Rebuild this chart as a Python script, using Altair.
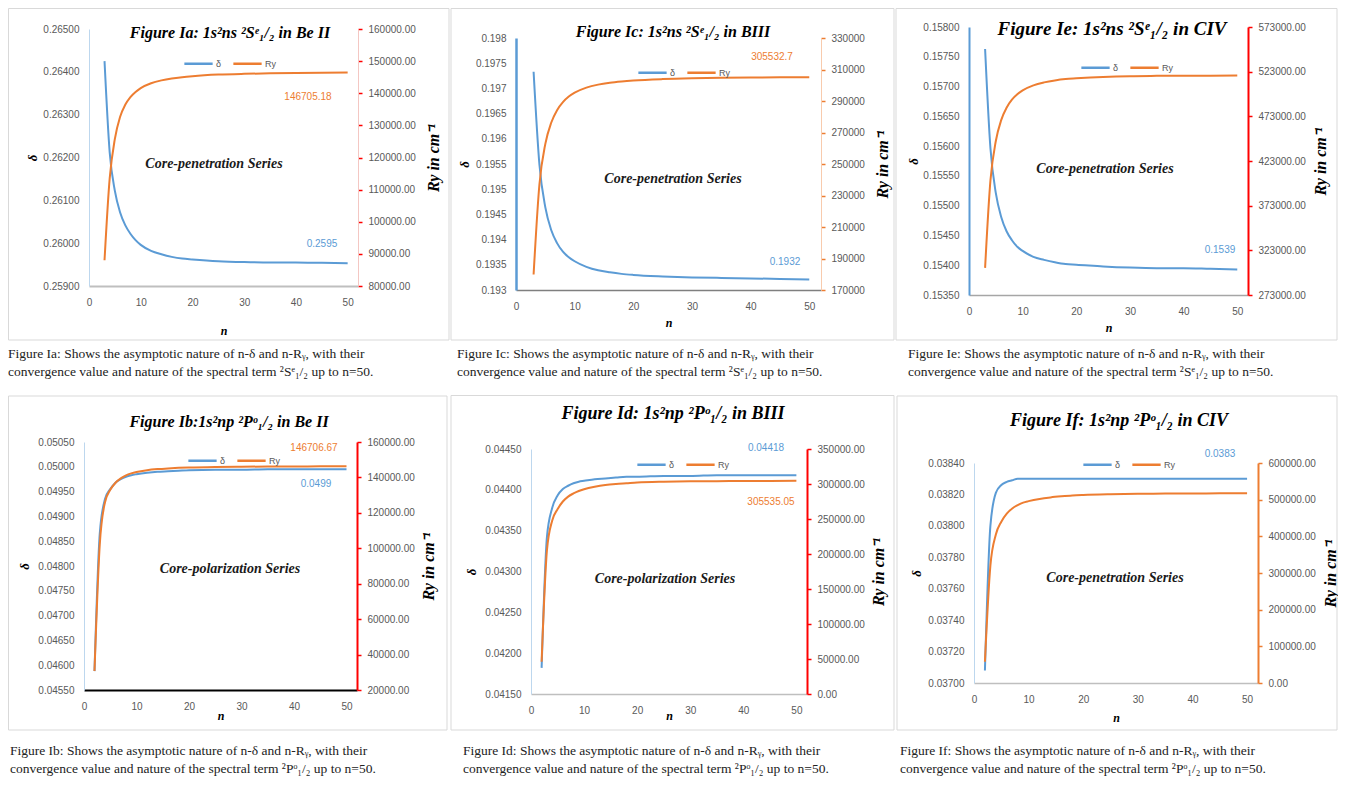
import altair as alt
import pandas as pd

BLUE = "#5B9BD5"
ORANGE = "#ED7D31"
SERIES = ["δ", "Ry"]

# ---------------- data ----------------
N_S = [3, 4, 5, 6, 7, 8, 9, 10, 12, 14, 16, 18, 20, 25, 30, 35, 40, 45, 50]
N_P = [2, 3, 4, 5, 6, 7, 8, 9, 10, 12, 14, 16, 18, 20, 25, 30, 35, 40, 45, 50]

DELTA_IA = [0.26425, 0.26212, 0.26122, 0.26072, 0.26042, 0.26022, 0.26007, 0.25996, 0.25982, 0.25974,
            0.25968, 0.25964, 0.25962, 0.25958, 0.25956, 0.25955, 0.25955, 0.25954, 0.25953]
RY_IA = [88000, 113500, 125800, 132600, 136400, 138800, 140400, 141600, 143100, 144000,
         144600, 145000, 145300, 145800, 146050, 146200, 146300, 146380, 146430]

DELTA_IC = [0.19733, 0.19548, 0.19464, 0.19419, 0.19393, 0.19376, 0.19365, 0.19357, 0.19346, 0.19339,
            0.19335, 0.19332, 0.19330, 0.19327, 0.19325, 0.19324, 0.19323, 0.19322, 0.19321]
RY_IC = [179800, 237300, 262800, 276200, 284200, 289300, 292800, 295300, 298500, 300400,
         301600, 302400, 303000, 303900, 304400, 304700, 304900, 305050, 305150]

DELTA_IE = [0.15763, 0.15596, 0.15521, 0.15481, 0.15457, 0.15442, 0.15431, 0.15424, 0.15414, 0.15409,
            0.15405, 0.15402, 0.15401, 0.15398, 0.15396, 0.15395, 0.15395, 0.15394, 0.15393]
RY_IE = [303400, 401500, 445400, 468800, 482700, 491700, 497700, 502100, 507700, 511000,
         513200, 514700, 515500, 517100, 518000, 518300, 518450, 518550, 518650]

DELTA_IB = [0.04588, 0.04865, 0.04935, 0.04955, 0.04968, 0.04975, 0.04980, 0.04983, 0.04985, 0.04988,
            0.04990, 0.04991, 0.04992, 0.04993, 0.04994, 0.04994, 0.04995, 0.04995, 0.04995, 0.04995]
RY_IB = [30700, 102000, 126000, 133000, 137000, 139500, 141200, 142300, 143100, 144100,
         144700, 145100, 145400, 145600, 145900, 146050, 146150, 146200, 146250, 146300]

DELTA_ID = [0.04182, 0.04342, 0.04378, 0.04393, 0.04401, 0.04405, 0.04408, 0.04410, 0.04411, 0.04413,
            0.04414, 0.04415, 0.04416, 0.04416, 0.04417, 0.04417, 0.04418, 0.04418, 0.04418, 0.04418]
RY_ID = [46000, 205000, 248000, 264000, 275000, 282000, 286500, 290000, 292500, 296000,
         298500, 300000, 301000, 302000, 303200, 303800, 304100, 304300, 304450, 304550]

DELTA_IF = [0.03708, 0.03800, 0.03821, 0.03826, 0.03828, 0.03829, 0.03830, 0.03830, 0.03830, 0.03830,
            0.03830, 0.03830, 0.03830, 0.03830, 0.03830, 0.03830, 0.03830, 0.03830, 0.03830, 0.03830]
RY_IF = [58000, 320000, 405000, 440000, 462000, 476000, 485000, 492000, 496000, 502000,
         506000, 509000, 511500, 513000, 515000, 516000, 516600, 517000, 517200, 517400]

X_TICKS = [0, 10, 20, 30, 40, 50]
YL_IA = [0.259, 0.260, 0.261, 0.262, 0.263, 0.264, 0.265]
YR_IA = [80000, 90000, 100000, 110000, 120000, 130000, 140000, 150000, 160000]
YL_IC = [0.193, 0.1935, 0.194, 0.1945, 0.195, 0.1955, 0.196, 0.1965, 0.197, 0.1975, 0.198]
YR_IC = [170000, 190000, 210000, 230000, 250000, 270000, 290000, 310000, 330000]
YL_IE = [0.1535, 0.154, 0.1545, 0.155, 0.1555, 0.156, 0.1565, 0.157, 0.1575, 0.158]
YR_IE = [273000, 323000, 373000, 423000, 473000, 523000, 573000]
YL_IB = [0.0455, 0.046, 0.0465, 0.047, 0.0475, 0.048, 0.0485, 0.049, 0.0495, 0.05, 0.0505]
YR_IB = [20000, 40000, 60000, 80000, 100000, 120000, 140000, 160000]
YL_ID = [0.0415, 0.042, 0.0425, 0.043, 0.0435, 0.044, 0.0445]
YR_ID = [0, 50000, 100000, 150000, 200000, 250000, 300000, 350000]
YL_IF = [0.037, 0.0372, 0.0374, 0.0376, 0.0378, 0.038, 0.0382, 0.0384]
YR_IF = [0, 100000, 200000, 300000, 400000, 500000, 600000]


def cap(fig, term):
    return ["Figure " + fig + ": Shows the asymptotic nature of n-δ and n-Rᵧ, with their",
            "convergence value and nature of the spectral term " + term + " up to n=50."]


S_TERM = "²Sᵉ₁/₂"
P_TERM = "²Pᵒ₁/₂"

# layout (absolute page pixels): plot = (left, right-axis x, top, bottom)
PANELS = [
    dict(n=N_S, delta=DELTA_IA, ry=RY_IA, yl=YL_IA, yr=YR_IA, lfmt=".5f", rfmt=".2f",
         plot=(89, 358, 29, 286), cell=(8, 450, 8, 395), frame=(8.5, 449, 8.5, 340),
         xt=44, lt=-57, rt=75,
         lcol="#BDD7EE", lw=1, rcol="#F4C7C3", rw=1, tcol="#FF0000", xcol="#BFBFBF", xw=2,
         title=("Figure Ia: 1s²ns ²Sᵉ₁/₂ in Be II", 230, 33, 16),
         series=("Core-penetration Series", 214, 164),
         labels=[("146705.18", 308, 97, ORANGE), ("0.2595", 322, 244, BLUE)],
         legend=(183, 48), caption=(cap("Ia", S_TERM), 8, 347)),
    dict(n=N_S, delta=DELTA_IC, ry=RY_IC, yl=YL_IC, yr=YR_IC, lfmt=".4~f", rfmt="d",
         plot=(516, 821, 38, 290), cell=(450, 895, 8, 395), frame=(451, 894, 8.5, 340),
         xt=32, lt=-52, rt=61,
         lcol=BLUE, lw=2.5, rcol="#F8CBAD", rw=1, tcol=ORANGE, xcol="#7F7F7F", xw=1.5,
         title=("Figure Ic: 1s²ns ²Sᵉ₁/₂ in BIII", 673, 32, 16),
         series=("Core-penetration Series", 673, 179),
         labels=[("305532.7", 772, 57, ORANGE), ("0.1932", 785, 262, BLUE)],
         legend=(637, 57), caption=(cap("Ic", S_TERM), 457, 347)),
    dict(n=N_S, delta=DELTA_IE, ry=RY_IE, yl=YL_IE, yr=YR_IE, lfmt=".5f", rfmt=".2f",
         plot=(969, 1248, 27, 295), cell=(895, 1338, 8, 395), frame=(896, 1337, 8.5, 340),
         xt=32, lt=-56, rt=72,
         lcol=BLUE, lw=2, rcol="#FF0000", rw=2, tcol="#FF0000", xcol="#A6A6A6", xw=1.5,
         title=("Figure Ie: 1s²ns ²Sᵉ₁/₂ in CIV", 1112, 29, 19),
         series=("Core-penetration Series", 1105, 169),
         labels=[("0.1539", 1220, 250, BLUE)],
         legend=(1080, 52), caption=(cap("Ie", S_TERM), 908, 347)),
    dict(n=N_P, delta=DELTA_IB, ry=RY_IB, yl=YL_IB, yr=YR_IB, lfmt=".5f", rfmt=".2f",
         plot=(84, 357, 442, 690), cell=(8, 449, 395, 777), frame=(8.5, 447, 396, 730),
         xt=25, lt=-60, rt=71,
         lcol="#BDD7EE", lw=1, rcol="#FF0000", rw=2, tcol="#FF0000", xcol="#000000", xw=2,
         title=("Figure Ib:1s²np ²Pᵒ₁/₂ in Be II", 229, 422, 16),
         series=("Core-polarization Series", 230, 569),
         labels=[("146706.67", 314, 448, ORANGE), ("0.0499", 316, 484, BLUE)],
         legend=(187, 445), caption=(cap("Ib", P_TERM), 10, 744)),
    dict(n=N_P, delta=DELTA_ID, ry=RY_ID, yl=YL_ID, yr=YR_ID, lfmt=".5f", rfmt=".2f",
         plot=(531, 807, 449, 694), cell=(449, 896, 395, 777), frame=(451, 894, 395.5, 730),
         xt=21, lt=-60, rt=71,
         lcol="#BDD7EE", lw=1, rcol="#FF0000", rw=2, tcol="#FF0000", xcol="#BFBFBF", xw=1.5,
         title=("Figure Id: 1s²np ²Pᵒ₁/₂ in BIII", 673, 414, 18),
         series=("Core-polarization Series", 665, 579),
         labels=[("0.04418", 766, 448, BLUE), ("305535.05", 771, 502, ORANGE)],
         legend=(636, 449), caption=(cap("Id", P_TERM), 463, 744)),
    dict(n=N_P, delta=DELTA_IF, ry=RY_IF, yl=YL_IF, yr=YR_IF, lfmt=".5f", rfmt=".2f",
         plot=(974, 1258, 463, 683), cell=(896, 1338, 395, 777), frame=(897, 1337, 396, 730),
         xt=34, lt=-58, rt=72,
         lcol="#BDD7EE", lw=1, rcol=ORANGE, rw=2, tcol=ORANGE, xcol="#BFBFBF", xw=1.5,
         title=("Figure If: 1s²np ²Pᵒ₁/₂ in CIV", 1119, 421, 18),
         series=("Core-penetration Series", 1115, 578),
         labels=[("0.0383", 1220, 454, BLUE)],
         legend=(1082, 449), caption=(cap("If", P_TERM), 900, 744)),
]

ONE = pd.DataFrame({"k": [0]})
SERIF = "Liberation Serif"
SANS = "Liberation Sans"


def text_layer(s, x, y, size, color="#000000", font=SERIF, style="normal", weight="normal",
               align="center", baseline="middle", line_height=0):
    kw = dict(text=s, fontSize=size, color=color, font=font, fontStyle=style,
              fontWeight=weight, align=align, baseline=baseline)
    if line_height:
        kw["lineHeight"] = line_height
    return alt.Chart(ONE).mark_text(**kw).encode(x=alt.value(x), y=alt.value(y))


def panel(p):
    cx0, cx1, cy0, cy1 = p["cell"]
    GW, GH = cx1 - cx0, cy1 - cy0

    def rx(a):
        return a - cx0

    def ry(a):
        return a - cy0

    pl, pr, pt, pb = p["plot"]
    L, R, T, B = rx(pl), rx(pr), ry(pt), ry(pb)
    fx0, fx1, fy0, fy1 = p["frame"]
    frame = alt.Chart(ONE).mark_rect(fillOpacity=0, stroke="#D9D9D9", strokeWidth=1).encode(
        x=alt.value(rx(fx0)), x2=alt.value(rx(fx1)), y=alt.value(ry(fy0)), y2=alt.value(ry(fy1)))

    df_d = pd.DataFrame({"n": p["n"], "delta": p["delta"], "series": "δ"})
    df_r = pd.DataFrame({"n": p["n"], "ry": p["ry"], "series": "Ry"})

    common = dict(labelFont=SANS, labelFontSize=10, labelColor="#595959", labelFlush=False,
                  labelOverlap=False, grid=False, titleFont=SERIF, titleFontStyle="italic",
                  titleFontWeight="bold", titleColor="#000000", titleAlign="center",
                  titleBaseline="middle", zindex=1)

    x_enc = alt.X("n:Q", scale=alt.Scale(domain=[0, 52], nice=False, range=[L, R]),
                  axis=alt.Axis(values=X_TICKS, format="d", title="n", titleX=(L + R) / 2,
                                titleY=p["xt"], titleFontSize=12, labelPadding=11, ticks=False,
                                tickSize=0, offset=B - GH, domainColor=p["xcol"],
                                domainWidth=p["xw"], **common))

    lx, ly = p["legend"]
    leg = alt.Legend(orient="none", legendX=rx(lx), legendY=ry(ly), direction="horizontal",
                     title=None, symbolType="stroke", symbolSize=800, symbolStrokeWidth=2.5,
                     labelFontSize=9, labelColor="#595959", labelFont=SANS, columnPadding=6,
                     labelOffset=2, padding=0)
    col = alt.Color("series:N", scale=alt.Scale(domain=SERIES, range=[BLUE, ORANGE]), legend=leg)

    yl = p["yl"]
    yr = p["yr"]
    line_d = alt.Chart(df_d).mark_line(strokeWidth=2, interpolate="monotone").encode(
        x=x_enc,
        y=alt.Y("delta:Q", scale=alt.Scale(domain=[yl[0], yl[-1]], nice=False, zero=False, range=[B, T]),
                axis=alt.Axis(orient="left", values=yl, format=p["lfmt"], title="δ",
                              titleX=p["lt"], titleY=(T + B) / 2, titleAngle=270, titleFontSize=13,
                              ticks=False, tickSize=0, labelPadding=10, offset=-L,
                              domainColor=p["lcol"], domainWidth=p["lw"], **common)),
        color=col)
    line_r = alt.Chart(df_r).mark_line(strokeWidth=2, interpolate="monotone").encode(
        x=x_enc,
        y=alt.Y("ry:Q", scale=alt.Scale(domain=[yr[0], yr[-1]], nice=False, zero=False, range=[B, T]),
                axis=alt.Axis(orient="right", values=yr, format=p["rfmt"], title="Ry in cm⁻¹",
                              titleX=p["rt"], titleY=(T + B) / 2, titleAngle=270, titleFontSize=16,
                              ticks=True, tickSize=4, tickColor=p["tcol"], tickWidth=1.5,
                              labelPadding=6, offset=R - GW, domainColor=p["rcol"],
                              domainWidth=p["rw"], **common)),
        color=col)

    t, tx, ty, ts = p["title"]
    title = text_layer(t, rx(tx), ry(ty), ts, style="italic", weight="bold")
    s, sx, sy = p["series"]
    series = text_layer(s, rx(sx), ry(sy), 14, color="#1a1a1a", style="italic", weight="bold")
    labs = [text_layer(lt, rx(lx_), ry(ly_), 10, color=c, font=SANS) for lt, lx_, ly_, c in p["labels"]]
    ctext, cxx, cyy = p["caption"]
    caption = text_layer(ctext, rx(cxx), ry(cyy), 13.5, color="#222222", align="left",
                         baseline="top", line_height=18)

    layers = [frame, line_d, line_r, title, series, caption] + labs
    return alt.layer(*layers).properties(width=GW, height=GH).resolve_scale(y="independent")


row1 = alt.hconcat(*[panel(p) for p in PANELS[:3]], spacing=0).resolve_scale(color="independent")
row2 = alt.hconcat(*[panel(p) for p in PANELS[3:]], spacing=0).resolve_scale(color="independent")
chart = (alt.vconcat(row1, row2, spacing=0)
         .resolve_scale(color="independent")
         .properties(padding=0, background="white")
         .configure_view(strokeWidth=0))

chart.save("out.html", embed_options={"renderer": "svg", "actions": False})
